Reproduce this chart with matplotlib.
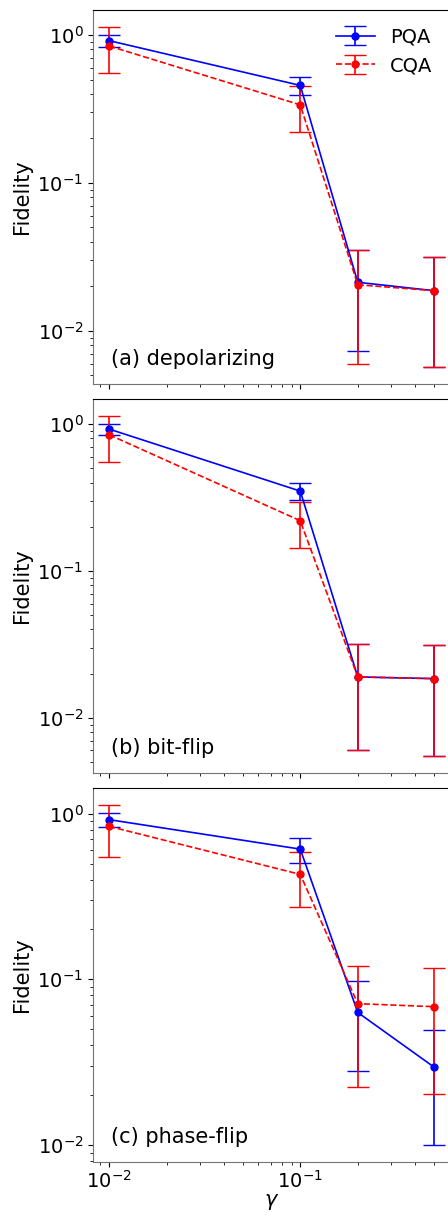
import numpy as np
import matplotlib
matplotlib.use("Agg")
import matplotlib.pyplot as plt

gamma = [0.01, 0.1, 0.2, 0.5]

# (a) depolarizing
pqa_a = [0.915, 0.456, 0.0213, 0.0187]
pqa_a_err = [0.09, 0.065, 0.014, 0.013]
cqa_a = [0.842, 0.337, 0.0205, 0.0187]
cqa_a_err = [0.29, 0.115, 0.0145, 0.013]

# (b) bit-flip
pqa_b = [0.925, 0.350, 0.0190, 0.0185]
pqa_b_err = [0.08, 0.046, 0.013, 0.013]
cqa_b = [0.846, 0.220, 0.0190, 0.0185]
cqa_b_err = [0.29, 0.076, 0.013, 0.013]

# (c) phase-flip
pqa_c = [0.920, 0.611, 0.0631, 0.0296]
pqa_c_err = [0.085, 0.105, 0.035, 0.0196]
cqa_c = [0.838, 0.430, 0.0713, 0.0684]
cqa_c_err = [0.29, 0.157, 0.049, 0.048]

labels = ["(a) depolarizing", "(b) bit-flip", "(c) phase-flip"]
panels = [
    (pqa_a, pqa_a_err, cqa_a, cqa_a_err),
    (pqa_b, pqa_b_err, cqa_b, cqa_b_err),
    (pqa_c, pqa_c_err, cqa_c, cqa_c_err),
]

plt.rcParams["font.size"] = 15
plt.rcParams["xtick.labelsize"] = 14
plt.rcParams["ytick.labelsize"] = 14

fig = plt.figure(figsize=(4.48, 12.16), dpi=100)
left, width, height = 93 / 448, 357 / 448, 374 / 1216
tops = [10, 399, 788]

axes = []
for top in tops:
    bottom = 1 - (top + 374) / 1216
    ax = fig.add_axes([left, bottom, width, height],
                      sharex=axes[0] if axes else None)
    axes.append(ax)

for ax, (p, pe, c, ce), lab in zip(axes, panels, labels):
    ax.errorbar(gamma, p, yerr=pe, fmt="o-", color="blue", markersize=5,
                linewidth=1.2, capsize=8, label="PQA")
    ax.errorbar(gamma, c, yerr=ce, fmt="o--", color="red", markersize=5,
                linewidth=1.2, capsize=8, label="CQA")
    ax.set_xscale("log")
    ax.set_yscale("log")
    ax.set_ylabel("Fidelity")
    ax.text(0.05, 0.05, lab, transform=ax.transAxes, fontsize=15)
    ax.spines["left"].set_color("0.45")
    ax.spines["bottom"].set_color("0.45")

axes[0].legend(loc="upper right", frameon=False, fontsize=14)
for ax in axes[:2]:
    ax.tick_params(labelbottom=False)
axes[2].tick_params(axis="x", pad=2.5)
axes[2].set_xlabel(r"$\gamma$", labelpad=0)

fig.savefig("out.png", dpi=100)
